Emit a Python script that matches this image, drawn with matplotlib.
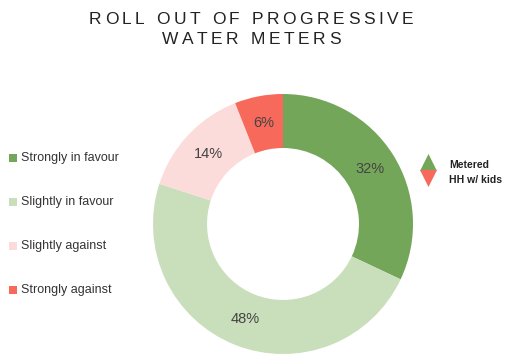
import numpy as np
import matplotlib
matplotlib.use("Agg")
import matplotlib.pyplot as plt

plt.rcParams['font.family'] = ['Liberation Sans', 'DejaVu Sans']

# Données
categories = ['Strongly in favour', 'Slightly in favour', 'Slightly against', 'Strongly against']
values = [32, 48, 14, 6]
colors = ['#74a65a', '#c9deba', '#fcdcda', '#f7695b']
marker_labels = ['Metered', 'HH w/ kids']
marker_colors = ['#74a65a', '#f7695b']

title_lines = ["ROLL OUT OF PROGRESSIVE", "WATER METERS"]

W, H = 514, 356
fig = plt.figure(figsize=(W / 100, H / 100), dpi=100)
ax = fig.add_axes([0, 0, 1, 1])

cx, cy, r = 283, H - 224, 130
wedges, texts, autotexts = ax.pie(
    values, colors=colors, startangle=90, counterclock=False,
    center=(cx, cy), radius=r, autopct='%d%%', pctdistance=0.79,
    wedgeprops=dict(width=54, linewidth=0),
    textprops=dict(color='#444444', fontsize=10.5))

ax.set_xlim(0, W)
ax.set_ylim(0, H)
ax.set_aspect('equal')
ax.axis('off')

# Titre (lettres espacées, placées une par une)
renderer = fig.canvas.get_renderer()
tracking = 3.6
for k, line in enumerate(title_lines):
    y = H - (19.5 + 19.5 * k)
    objs = [ax.text(0, y, ch, fontsize=12.5, color='#222222', ha='left', va='center')
            for ch in line]
    widths = [o.get_window_extent(renderer).width if ch != ' ' else 4.5
              for o, ch in zip(objs, line)]
    total = sum(widths) + tracking * (len(line) - 1)
    x = 251 - total / 2
    for o, w in zip(objs, widths):
        o.set_x(x)
        x += w + tracking

# Légende gauche
for i, (lab, col) in enumerate(zip(categories, colors)):
    y = H - (158 + 44 * i)
    ax.scatter([13], [y], marker='s', s=28, color=col, linewidths=0)
    ax.text(21, y, lab, ha='left', va='center', fontsize=9, color='#333333')

# Légende droite
ax.scatter([428], [H - 162], marker='^', s=150, color=marker_colors[0], linewidths=0)
ax.scatter([428], [H - 177.5], marker='v', s=150, color=marker_colors[1], linewidths=0)
ax.text(449, H - 165, marker_labels[0], ha='left', va='center', fontsize=7.5,
        fontweight='bold', color='#222222')
ax.text(449, H - 180, marker_labels[1], ha='left', va='center', fontsize=7.5,
        fontweight='bold', color='#222222')

fig.savefig('out.png', dpi=100, facecolor='white')
